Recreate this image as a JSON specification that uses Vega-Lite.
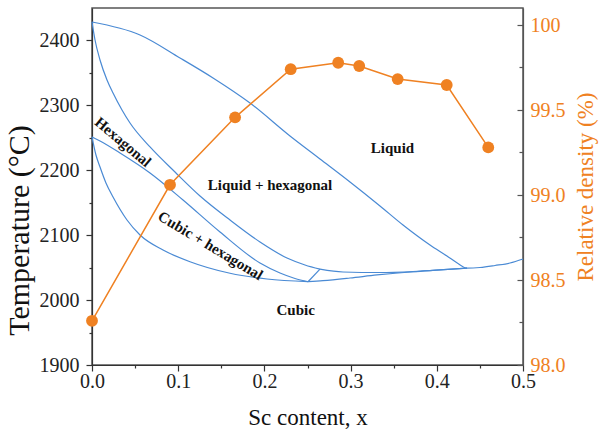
{
  "$schema": "https://vega.github.io/schema/vega-lite/v6.json",
  "width": 431,
  "height": 357,
  "autosize": {"type": "none"},
  "padding": {"left": 92, "top": 8, "right": 78, "bottom": 64},
  "background": "white",
  "config": {
    "view": {"stroke": "#555", "strokeWidth": 1.5},
    "font": "Liberation Serif",
    "axis": {
      "labelFont": "Liberation Serif",
      "titleFont": "Liberation Serif",
      "labelFontSize": 20,
      "titleFontSize": 23,
      "titleFontWeight": "normal",
      "grid": false,
      "domainColor": "#333",
      "tickColor": "#333",
      "labelColor": "#222",
      "titleColor": "#111",
      "domainWidth": 1.2,
      "tickWidth": 1.2
    }
  },
  "datasets": {
    "phase": [
      {"curve": "A", "x": 0, "T": 2428.4},
      {"curve": "A", "x": 0.0557, "T": 2408.4},
      {"curve": "A", "x": 0.1021, "T": 2373.0},
      {"curve": "A", "x": 0.1404, "T": 2342.2},
      {"curve": "A", "x": 0.1833, "T": 2303.6},
      {"curve": "A", "x": 0.2297, "T": 2252.8},
      {"curve": "A", "x": 0.2645, "T": 2217.4},
      {"curve": "A", "x": 0.2993, "T": 2181.9},
      {"curve": "A", "x": 0.3341, "T": 2145.0},
      {"curve": "A", "x": 0.3608, "T": 2115.7},
      {"curve": "A", "x": 0.3921, "T": 2084.9},
      {"curve": "A", "x": 0.4118, "T": 2067.9},
      {"curve": "A", "x": 0.4246, "T": 2056.4},
      {"curve": "A", "x": 0.4350, "T": 2049.2},
      {"curve": "A", "x": 0.4501, "T": 2050.2},
      {"curve": "A", "x": 0.4675, "T": 2053.3},
      {"curve": "A", "x": 0.4849, "T": 2057.1},
      {"curve": "A", "x": 0.5, "T": 2063.3},
      {"curve": "B", "x": 0, "T": 2428.4},
      {"curve": "B", "x": 0.0035, "T": 2400.7},
      {"curve": "B", "x": 0.0093, "T": 2369.9},
      {"curve": "B", "x": 0.0174, "T": 2339.1},
      {"curve": "B", "x": 0.0244, "T": 2319.0},
      {"curve": "B", "x": 0.0348, "T": 2292.9},
      {"curve": "B", "x": 0.0441, "T": 2272.8},
      {"curve": "B", "x": 0.0673, "T": 2235.9},
      {"curve": "B", "x": 0.0963, "T": 2197.3},
      {"curve": "B", "x": 0.1253, "T": 2160.4},
      {"curve": "B", "x": 0.1601, "T": 2123.4},
      {"curve": "B", "x": 0.1949, "T": 2089.5},
      {"curve": "B", "x": 0.2262, "T": 2064.8},
      {"curve": "B", "x": 0.2471, "T": 2054.1},
      {"curve": "B", "x": 0.2645, "T": 2047.6},
      {"curve": "C", "x": 0, "T": 2251.3},
      {"curve": "C", "x": 0.0093, "T": 2245.1},
      {"curve": "C", "x": 0.0325, "T": 2226.6},
      {"curve": "C", "x": 0.0673, "T": 2195.8},
      {"curve": "C", "x": 0.1056, "T": 2154.2},
      {"curve": "C", "x": 0.1485, "T": 2104.9},
      {"curve": "C", "x": 0.1949, "T": 2057.1},
      {"curve": "C", "x": 0.2181, "T": 2041.7},
      {"curve": "C", "x": 0.2355, "T": 2033.3},
      {"curve": "C", "x": 0.2506, "T": 2028.3},
      {"curve": "D", "x": 0, "T": 2251.3},
      {"curve": "D", "x": 0.0046, "T": 2223.5},
      {"curve": "D", "x": 0.0093, "T": 2205.0},
      {"curve": "D", "x": 0.0162, "T": 2180.4},
      {"curve": "D", "x": 0.0244, "T": 2158.8},
      {"curve": "D", "x": 0.0406, "T": 2123.4},
      {"curve": "D", "x": 0.0557, "T": 2100.3},
      {"curve": "D", "x": 0.0824, "T": 2077.2},
      {"curve": "D", "x": 0.1137, "T": 2059.1},
      {"curve": "D", "x": 0.1601, "T": 2041.3},
      {"curve": "D", "x": 0.2030, "T": 2032.5},
      {"curve": "D", "x": 0.2506, "T": 2028.3},
      {"curve": "E", "x": 0.2506, "T": 2028.3},
      {"curve": "E", "x": 0.2680, "T": 2029.9},
      {"curve": "E", "x": 0.2993, "T": 2034.0},
      {"curve": "E", "x": 0.3306, "T": 2038.7},
      {"curve": "E", "x": 0.3724, "T": 2043.7},
      {"curve": "E", "x": 0.4037, "T": 2046.4},
      {"curve": "E", "x": 0.4350, "T": 2049.2},
      {"curve": "F", "x": 0.2645, "T": 2047.6},
      {"curve": "F", "x": 0.2912, "T": 2043.3},
      {"curve": "F", "x": 0.3341, "T": 2042.5},
      {"curve": "F", "x": 0.3724, "T": 2044.0},
      {"curve": "F", "x": 0.4037, "T": 2046.4},
      {"curve": "F", "x": 0.4350, "T": 2049.2},
      {"curve": "G", "x": 0.2506, "T": 2028.3},
      {"curve": "G", "x": 0.2645, "T": 2047.6}
    ],
    "density": [
      {"x": 0, "D": 98.26},
      {"x": 0.0905, "D": 99.06},
      {"x": 0.166, "D": 99.457},
      {"x": 0.2305, "D": 99.74},
      {"x": 0.2856, "D": 99.778},
      {"x": 0.31, "D": 99.759},
      {"x": 0.3546, "D": 99.682},
      {"x": 0.4115, "D": 99.647},
      {"x": 0.4597, "D": 99.28}
    ],
    "regionLabels": [
      {"label": "Liquid", "x": 0.3486, "T": 2233.9},
      {"label": "Liquid + hexagonal", "x": 0.2065, "T": 2177.3},
      {"label": "Cubic", "x": 0.2363, "T": 1984.7}
    ],
    "hexLabel": [
      {"label": "Hexagonal", "x": 0.036, "T": 2243.6}
    ],
    "cubicHexLabel": [
      {"label": "Cubic + hexagonal", "x": 0.1375, "T": 2084.0}
    ]
  },
  "encoding": {
    "x": {
      "field": "x",
      "type": "quantitative",
      "scale": {"domain": [0, 0.5], "nice": false, "zero": false},
      "axis": {
        "title": "Sc content, x",
        "values": [0, 0.05, 0.1, 0.15, 0.2, 0.25, 0.3, 0.35, 0.4, 0.45, 0.5],
        "labelExpr": "abs(datum.value*10 - round(datum.value*10)) < 0.001 ? format(datum.value, '.1f') : ''",
        "tickSize": {"condition": {"test": "abs(datum.value*10 - round(datum.value*10)) < 0.001", "value": 6}, "value": 3},
        "labelPadding": 0,
        "titlePadding": 15,
        "labelFlush": false
      }
    }
  },
  "layer": [
    {
      "encoding": {
        "y": {
          "field": "T",
          "type": "quantitative",
          "scale": {"domain": [1900, 2450], "nice": false, "zero": false},
          "axis": {
            "title": "Temperature (°C)",
            "orient": "left",
            "values": [1900, 1950, 2000, 2050, 2100, 2150, 2200, 2250, 2300, 2350, 2400],
            "format": "d",
            "labelExpr": "datum.value % 100 === 0 ? datum.label : ''",
            "tickSize": {"condition": {"test": "datum.value % 100 === 0", "value": 6}, "value": 3},
            "labelPadding": 7,
            "titlePadding": 5,
            "titleFontSize": 30,
            "titleY": 222,
            "labelFlush": false
          }
        }
      },
      "layer": [
        {
          "data": {"name": "phase"},
          "mark": {"type": "line", "color": "#4A8AD4", "strokeWidth": 1.2, "interpolate": "monotone"},
          "encoding": {"detail": {"field": "curve"}}
        },
        {
          "data": {"name": "regionLabels"},
          "mark": {"type": "text", "font": "Liberation Serif", "fontWeight": "bold", "fontSize": 15, "color": "#111"},
          "encoding": {"text": {"field": "label"}}
        },
        {
          "data": {"name": "hexLabel"},
          "mark": {"type": "text", "font": "Liberation Serif", "fontWeight": "bold", "fontSize": 15, "color": "#111", "angle": 40},
          "encoding": {"text": {"field": "label"}}
        },
        {
          "data": {"name": "cubicHexLabel"},
          "mark": {"type": "text", "font": "Liberation Serif", "fontWeight": "bold", "fontSize": 15, "color": "#111", "angle": 31},
          "encoding": {"text": {"field": "label"}}
        }
      ]
    },
    {
      "data": {"name": "density"},
      "encoding": {
        "y": {
          "field": "D",
          "type": "quantitative",
          "scale": {"domain": [98, 100.1], "nice": false, "zero": false},
          "axis": {
            "title": "Relative density (%)",
            "orient": "right",
            "values": [98, 98.25, 98.5, 98.75, 99, 99.25, 99.5, 99.75, 100],
            "labelExpr": "datum.value == 100 ? '100' : (abs(datum.value*2 - round(datum.value*2)) < 0.001 ? format(datum.value, '.1f') : '')",
            "tickSize": {"condition": {"test": "abs(datum.value*2 - round(datum.value*2)) < 0.001", "value": -6}, "value": -4},
            "labelPadding": 13,
            "labelColor": "#EF8122",
            "titleColor": "#EF8122",
            "titleAngle": 270,
            "titlePadding": 32,
            "domainColor": "#555",
            "tickColor": "#555",
            "labelFlush": false
          }
        }
      },
      "layer": [
        {"mark": {"type": "line", "color": "#EF8122", "strokeWidth": 1.5}},
        {"mark": {"type": "point", "filled": true, "color": "#EF8122", "size": 140, "opacity": 1}}
      ]
    }
  ],
  "resolve": {"scale": {"y": "independent"}}
}
